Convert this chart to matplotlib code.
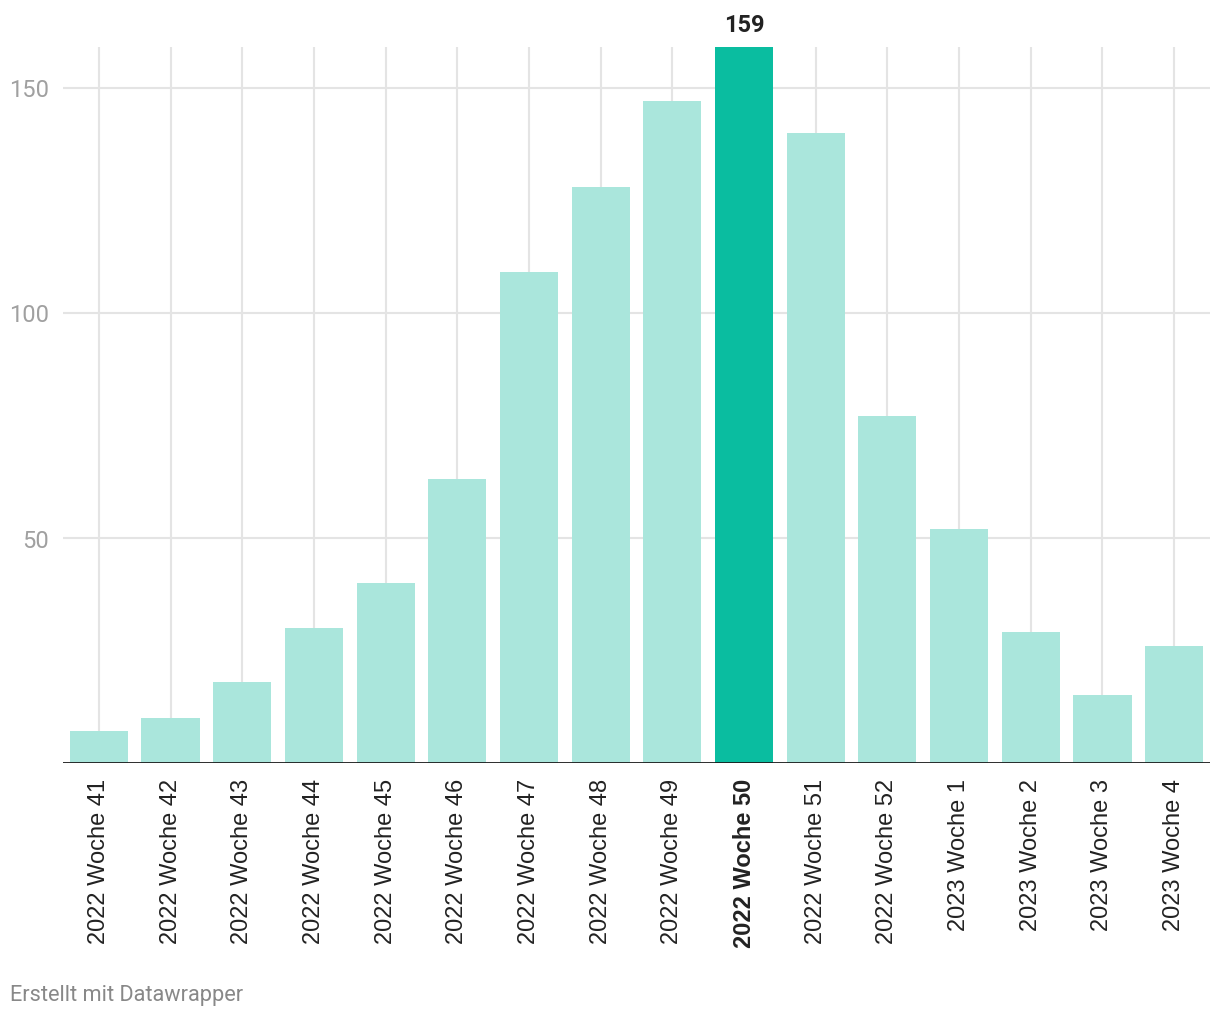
import matplotlib
matplotlib.use("Agg")
import matplotlib.pyplot as plt

categories = ["2022 Woche 41", "2022 Woche 42", "2022 Woche 43", "2022 Woche 44",
              "2022 Woche 45", "2022 Woche 46", "2022 Woche 47", "2022 Woche 48",
              "2022 Woche 49", "2022 Woche 50", "2022 Woche 51", "2022 Woche 52",
              "2023 Woche 1", "2023 Woche 2", "2023 Woche 3", "2023 Woche 4"]
values = [7, 10, 18, 30, 40, 63, 109, 128, 147, 159, 140, 77, 52, 29, 15, 26]
highlight = "2022 Woche 50"
yticks = [50, 100, 150]

plt.rcParams['font.family'] = ['Roboto', 'DejaVu Sans']

W, H = 1220, 1020
fig = plt.figure(figsize=(W / 100, H / 100), dpi=100)
ax = fig.add_axes([63 / W, 1 - 763.5 / H, (1210 - 63) / W, (763.5 - 48) / H])

light = "#aae6dc"
dark = "#0abda0"
colors = [dark if c == highlight else light for c in categories]
x = list(range(len(categories)))

for xi in x:
    ax.axvline(xi, color="#e4e4e4", lw=1.5, zorder=0)
for yt in yticks:
    ax.axhline(yt, color="#e4e4e4", lw=1.5, zorder=0)

ax.bar(x, values, width=0.81, color=colors, zorder=2)
ax.axhline(0, color="#1a1a1a", lw=2, zorder=3)

ax.set_xlim(-0.5, len(categories) - 0.5)
ax.set_ylim(0, max(values))
for s in ax.spines.values():
    s.set_visible(False)

ax.set_yticks(yticks)
ax.set_yticklabels([str(v) for v in yticks], color="#a0a0a0", fontsize=17)
ax.tick_params(axis='y', length=0, pad=10)

ax.set_xticks(x)
ax.set_xticklabels(categories, rotation=90, fontsize=17, color="#222222",
                   family=['Liberation Sans', 'DejaVu Sans'])
ax.tick_params(axis='x', length=0, pad=11)
for lbl in ax.get_xticklabels():
    if lbl.get_text() == highlight:
        lbl.set_fontweight("bold")

hi = categories.index(highlight)
ax.annotate(str(values[hi]), xy=(hi, values[hi]), xytext=(0, 8),
            textcoords="offset points", ha="center", va="bottom",
            fontsize=17, fontweight="bold", color="#222222")

fig.text(10 / W, 1 - 996 / H, "Erstellt mit Datawrapper", fontsize=15.7,
         color="#888888", ha="left", va="center")

fig.savefig("out.png", dpi=100, facecolor="white")
